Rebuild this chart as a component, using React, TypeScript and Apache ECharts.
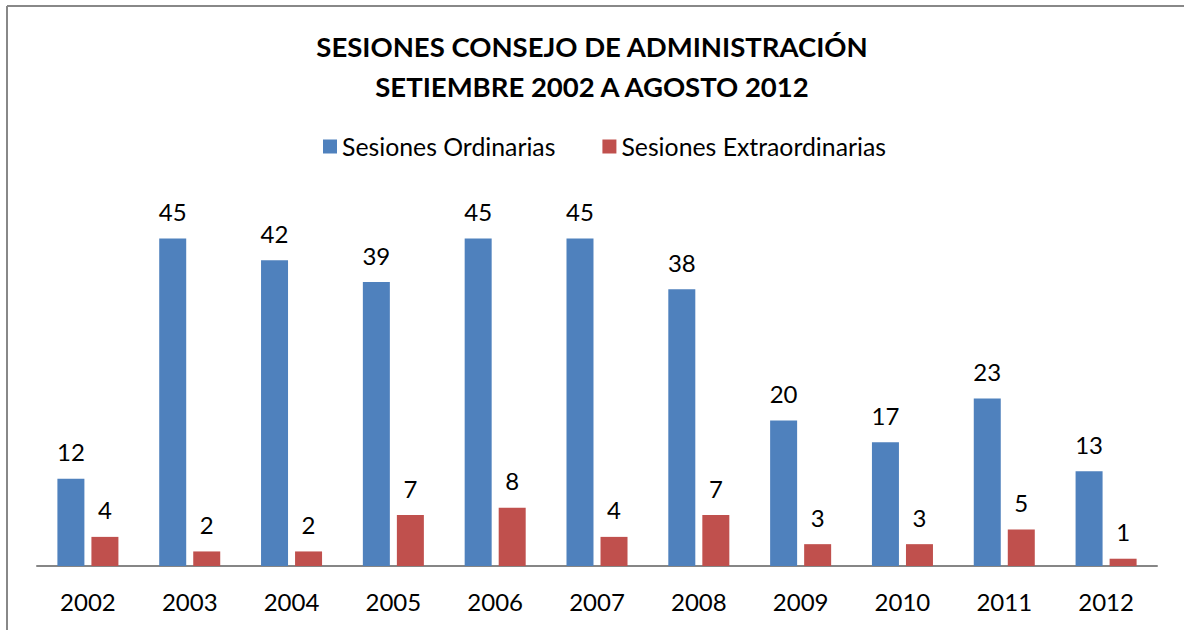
import React, { useEffect, useRef } from "react";
import * as echarts from "echarts";

const years = ["2002", "2003", "2004", "2005", "2006", "2007", "2008", "2009", "2010", "2011", "2012"];
const ordinarias = [12, 45, 42, 39, 45, 45, 38, 20, 17, 23, 13];
const extraordinarias = [4, 2, 2, 7, 8, 4, 7, 3, 3, 5, 1];
const titleLines = ["SESIONES CONSEJO DE ADMINISTRACIÓN", "SETIEMBRE 2002 A AGOSTO 2012"];
const seriesNames = ["Sesiones Ordinarias", "Sesiones Extraordinarias"];

const FONT = "Lato, 'Open Sans', sans-serif";

export default function App() {
  const ref = useRef<HTMLDivElement>(null);
  useEffect(() => {
    document.body.style.margin = "0";
    const chart = echarts.init(ref.current!, null, { renderer: "svg" });
    const labelStyle = {
      show: true,
      position: "top" as const,
      distance: 15,
      color: "#000",
      fontSize: 24,
      fontFamily: FONT,
    };
    chart.setOption({
      animation: false,
      backgroundColor: "#fff",
      title: {
        text: titleLines.join("\n"),
        left: "center",
        top: 21,
        textStyle: { fontSize: 27.5, fontWeight: "bold", fontFamily: FONT, color: "#000", lineHeight: 40 },
      },
      legend: {
        top: 129,
        left: 318,
        itemWidth: 14,
        itemHeight: 14,
        itemGap: 47,
        icon: "rect",
        textStyle: { fontSize: 24.8, fontFamily: FONT, color: "#000", padding: [0, 0, 0, 0] },
        data: seriesNames,
      },
      grid: { left: 37, right: 27, top: 202, bottom: 64 },
      xAxis: {
        type: "category",
        data: years,
        axisLine: { lineStyle: { color: "#868686", width: 2 } },
        axisTick: { show: false },
        axisLabel: { color: "#000", fontSize: 24, fontFamily: FONT, margin: 23 },
      },
      yAxis: {
        type: "value",
        min: 0,
        max: 50,
        show: false,
        splitLine: { show: false },
      },
      graphic: [
        { type: "line", shape: { x1: 7, y1: 6, x2: 1184, y2: 6 }, style: { stroke: "#888", lineWidth: 2 } },
        { type: "line", shape: { x1: 7, y1: 6, x2: 7, y2: 630 }, style: { stroke: "#888", lineWidth: 2 } },
      ],
      series: [
        {
          name: seriesNames[0],
          type: "bar",
          data: ordinarias,
          barWidth: 27,
          barGap: "26%",
          itemStyle: { color: "#4F81BD" },
          label: labelStyle,
        },
        {
          name: seriesNames[1],
          type: "bar",
          data: extraordinarias,
          barWidth: 27,
          itemStyle: { color: "#C0504D" },
          label: labelStyle,
        },
      ],
    });
    return () => chart.dispose();
  }, []);
  return <div ref={ref} style={{ width: 1184, height: 630, position: "absolute", left: 0, top: 0 }} />;
}
